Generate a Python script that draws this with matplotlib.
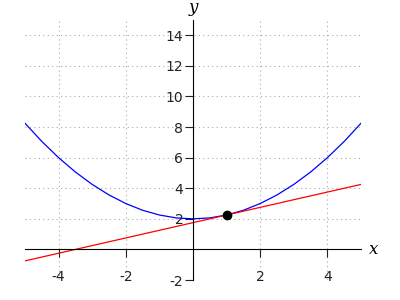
import numpy as np
import matplotlib
matplotlib.use('Agg')
import matplotlib.pyplot as plt

plt.rcParams['axes.unicode_minus'] = False

# curva azul
xc = [-5, -4.5, -4, -3.5, -3, -2.5, -2, -1.5, -1, -0.5, 0,
      0.5, 1, 1.5, 2, 2.5, 3, 3.5, 4, 4.5, 5]
yc = [8.25, 7.06, 6.0, 5.06, 4.25, 3.56, 3.0, 2.56, 2.25, 2.06, 2.0,
      2.06, 2.25, 2.56, 3.0, 3.56, 4.25, 5.06, 6.0, 7.06, 8.25]
# recta tangente
xr = [-5, 5]
yr = [-0.75, 4.25]
# punto de tangencia
xp = [1]
yp = [2.25]
xticks = [-4, -2, 2, 4]
yticks = [-2, 2, 4, 6, 8, 10, 12, 14]

fig = plt.figure(figsize=(4, 3), dpi=100)
ax = fig.add_axes([25/400, 20/300, 336/400, 260/300])
ax.set_xlim(-5, 5)
ax.set_ylim(-2, 15)

for v in xticks:
    ax.axvline(v, color='#aaaaaa', lw=0.8, ls=(0, (1, 3)), zorder=0)
for v in yticks:
    ax.axhline(v, color='#aaaaaa', lw=0.8, ls=(0, (1, 3)), zorder=0)

ax.plot(xc, yc, color='blue', lw=0.9)
ax.plot(xr, yr, color='red', lw=0.9)
ax.plot(xp, yp, 'o', color='black', markersize=6)

ax.spines['left'].set_position(('data', 0))
ax.spines['bottom'].set_position(('data', 0))
ax.spines['right'].set_visible(False)
ax.spines['top'].set_visible(False)
ax.set_xticks(xticks)
ax.set_yticks(yticks)
ax.tick_params(axis='x', direction='out', length=6, pad=9, labelsize=10, colors='#222222')
ax.tick_params(axis='y', direction='out', length=6, pad=1, labelsize=10, colors='#222222')
ax.set_facecolor('none')

ax.text(5.25, 0, 'x', fontsize=12, style='italic', family='DejaVu Serif',
        va='center', ha='left', transform=ax.transData)
fig.text(193/400, 1 - 7/300, 'y', fontsize=12, style='italic', family='DejaVu Serif',
         va='center', ha='center')

plt.savefig('out.png', dpi=100)
